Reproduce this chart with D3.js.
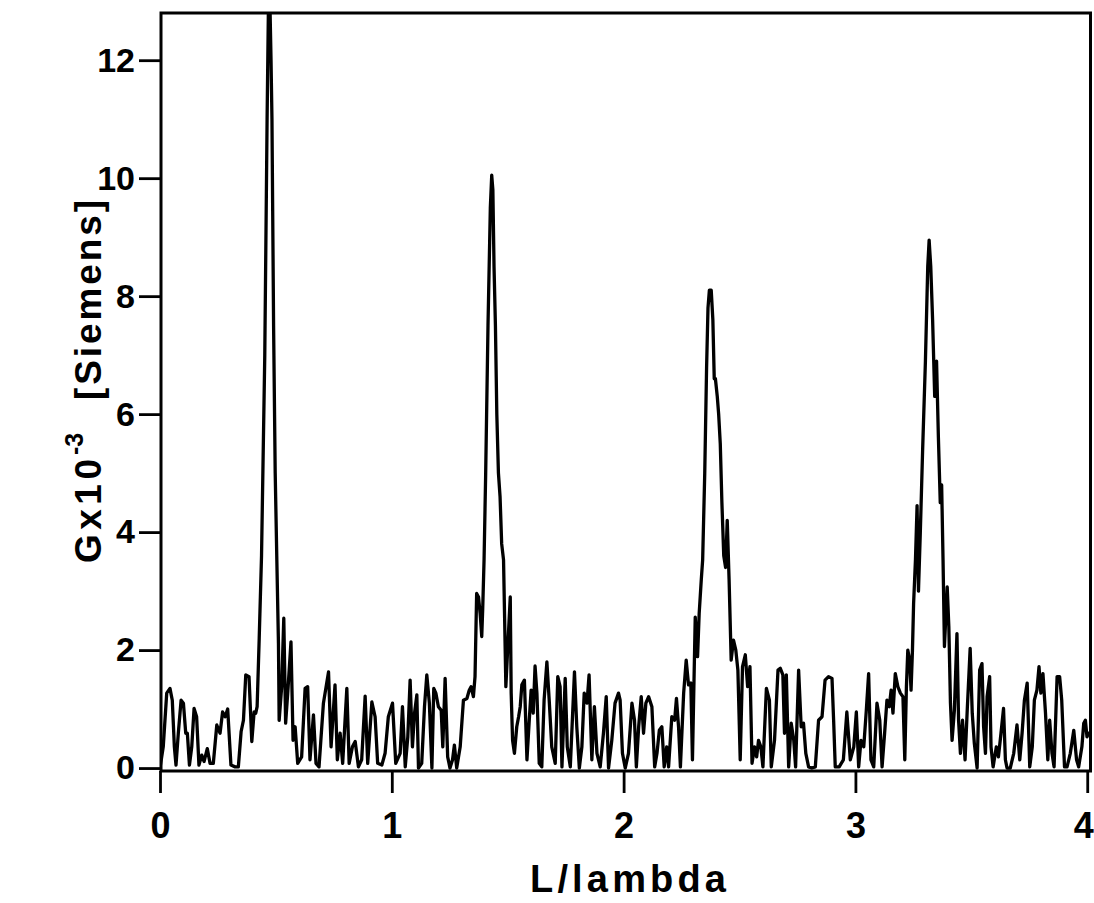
<!DOCTYPE html>
<html>
<head>
<meta charset="utf-8">
<script src="https://cdn.jsdelivr.net/npm/d3@7"></script>
<style>
  html, body { margin: 0; padding: 0; background: #fff; }
  svg { display: block; }
</style>
</head>
<body>
<svg id="chart" width="1094" height="903"></svg>
<script>
// ---- Data ----
const lambdaRatio = [
  0.000,0.014,0.029,0.043,0.053,0.062,0.069,0.079,0.091,0.101,0.111,0.118,0.127,0.137,0.147,0.158,0.168,0.180,0.190,0.204,
  0.216,0.230,0.245,0.259,0.270,0.281,0.292,0.306,0.324,0.338,0.350,0.360,0.370,0.384,0.396,0.406,0.413,0.419,
  0.428,0.438,0.452,0.462,0.468,0.474,0.479,0.483,0.490,0.497,0.504,0.511,
  0.514,0.525,0.534,0.542,0.551,0.565,0.574,0.583,0.594,0.611,0.626,0.637,0.647,0.662,0.673,0.686,0.705,0.727,0.738,0.755,
  0.765,0.777,0.788,0.806,0.816,0.830,0.842,0.856,0.870,0.885,0.896,0.914,0.928,0.939,0.957,0.971,0.985,1.003,
  1.017,1.036,1.046,1.058,1.069,1.079,1.089,1.098,1.108,1.115,1.129,1.141,1.151,1.162,1.173,1.181,1.190,1.201,1.213,1.220,
  1.230,1.241,1.251,1.262,1.270,1.280,1.295,1.309,1.324,1.334,1.342,1.352,1.359,1.366,1.374,1.381,1.388,1.392,1.398,
  1.405,1.415,1.425,1.431,1.436,1.441,1.447,1.453,1.460,1.467,1.474,1.482,
  1.486,1.492,1.501,1.511,1.515,1.521,1.529,1.539,1.547,1.554,1.561,1.572,1.583,1.593,1.601,1.610,1.618,1.626,1.636,1.647,
  1.657,1.669,1.679,1.690,1.705,1.716,1.726,1.734,1.748,1.757,1.770,1.788,1.798,1.809,1.820,1.830,1.842,1.851,1.863,1.874,
  1.885,1.899,1.913,1.925,1.935,1.949,1.963,1.978,1.985,1.995,2.007,
  2.021,2.036,2.047,2.055,2.065,2.076,2.086,2.096,2.108,2.122,2.134,2.144,2.154,2.165,2.175,2.186,2.194,2.208,2.220,2.228,
  2.237,2.245,2.259,2.270,2.280,2.290,2.297,2.309,2.319,2.326,2.335,2.341,
  2.350,2.358,2.364,2.370,2.378,2.385,2.391,2.396,2.404,2.410,2.417,2.424,2.432,2.440,2.447,2.455,
  2.464,2.474,2.484,2.493,2.503,2.513,2.525,2.535,2.545,2.554,2.565,2.574,2.582,2.592,2.601,2.616,2.629,2.637,2.651,2.666,
  2.676,2.687,2.694,2.702,2.712,2.723,2.734,2.742,2.755,2.766,2.776,2.786,2.798,2.812,2.827,2.841,2.856,2.869,2.884,2.899,
  2.906,2.913,2.930,2.948,2.963,2.978,
  2.993,3.004,3.014,3.024,3.036,3.047,3.057,3.067,3.079,3.093,3.105,3.115,3.126,3.136,3.146,3.154,3.162,3.172,3.183,3.194,
  3.205,3.213,3.220,3.226,3.234,3.240,3.246,3.251,3.259,
  3.266,3.272,3.280,3.290,3.302,3.312,3.318,3.325,3.333,3.342,3.350,3.358,3.366,3.372,3.378,
  3.384,3.396,3.403,3.410,3.417,3.427,3.438,3.445,3.453,3.462,3.473,3.483,3.495,3.504,3.513,3.525,3.536,3.546,3.553,3.561,
  3.568,3.579,3.585,3.594,3.608,3.617,3.628,3.639,3.647,3.654,3.668,3.683,3.697,3.709,3.719,3.729,3.741,3.752,3.763,3.772,
  3.783,3.792,3.800,3.809,3.820,3.830,3.838,3.848,3.857,3.870,3.881,3.890,3.902,3.913,3.927,3.942,3.954,3.963,3.977,3.985,
  3.992,3.999,4.006
];
const conductance = [
  0.00,0.36,1.27,1.35,1.15,0.36,0.05,0.59,1.15,1.10,0.59,0.59,0.05,0.36,1.01,0.87,0.05,0.22,0.11,0.33,
  0.08,0.08,0.73,0.59,0.95,0.87,1.00,0.05,0.02,0.02,0.62,0.81,1.58,1.55,0.45,0.95,0.93,1.04,
  2.20,3.60,7.00,11.00,13.00,13.00,12.00,11.00,7.50,5.00,3.53,2.11,
  0.81,1.38,2.54,0.76,1.27,2.14,0.47,0.70,0.08,0.19,1.35,1.38,0.14,0.90,0.08,0.02,1.10,1.63,0.36,1.41,
  0.14,0.59,0.08,1.35,0.08,0.36,0.45,0.02,0.14,1.22,0.08,1.12,0.87,0.08,0.05,0.25,0.87,1.10,
  0.08,0.25,1.04,0.02,0.53,1.49,0.36,0.93,1.24,0.00,0.08,1.04,1.58,1.10,0.00,1.35,1.27,1.04,0.98,0.36,
  1.52,0.19,0.00,0.14,0.39,0.00,0.36,1.15,1.18,1.32,1.38,1.21,1.55,2.96,2.90,2.62,2.23,2.68,3.53,
  5.00,7.50,9.50,10.05,9.80,8.50,7.50,6.00,5.00,4.60,3.80,3.53,
  2.68,1.38,2.11,2.90,1.27,0.47,0.25,0.70,0.87,1.04,1.41,1.49,0.14,0.81,1.32,0.93,1.73,1.27,0.08,0.02,
  1.15,1.80,1.15,0.36,0.08,1.55,1.38,0.02,1.52,0.36,0.02,1.63,0.70,0.00,0.36,1.27,1.10,1.58,0.14,1.04,
  0.25,0.02,0.59,1.21,0.00,0.47,1.10,1.27,1.15,0.25,0.00,
  0.25,1.10,0.81,0.02,0.70,1.21,0.59,1.10,1.21,1.04,0.02,0.25,0.64,0.70,0.02,0.36,0.02,0.87,0.81,1.18,
  0.70,0.02,1.27,1.83,1.41,1.44,0.14,2.56,1.89,2.62,3.19,3.53,
  5.00,6.80,7.80,8.10,8.10,7.60,6.60,6.60,6.30,6.00,5.50,4.50,3.60,3.40,4.20,3.20,
  1.83,2.17,2.00,1.66,0.14,1.72,1.92,1.38,1.72,0.08,0.36,0.19,0.47,0.36,0.02,1.35,1.15,0.02,0.47,1.66,
  1.69,1.58,0.59,1.58,0.02,0.76,0.47,0.02,1.66,0.70,0.76,0.25,0.02,0.00,0.02,0.81,0.87,1.49,1.55,1.52,
  0.81,0.02,0.02,0.14,0.95,0.14,
  0.36,0.95,0.02,0.47,0.36,0.98,1.60,0.14,0.02,1.10,0.81,0.02,0.59,1.15,1.04,1.32,0.93,1.60,1.38,1.27,
  1.21,0.14,1.38,2.00,1.83,1.32,1.99,2.79,3.53,
  4.45,3.00,4.00,5.40,6.90,8.50,8.95,8.50,7.60,6.30,6.90,5.60,4.50,4.80,3.53,
  2.06,3.07,2.40,1.10,0.47,0.98,2.28,0.81,0.25,0.81,0.14,1.04,2.03,0.93,0.42,0.00,1.66,1.77,0.70,0.25,
  1.21,1.55,0.36,0.02,0.36,0.19,0.59,1.01,0.14,0.00,0.00,0.25,0.73,0.14,0.59,1.15,1.44,0.02,0.36,1.15,
  1.32,1.72,1.27,1.60,0.93,0.14,0.81,0.25,0.02,1.55,1.55,1.15,0.02,0.02,0.25,0.64,0.14,0.02,0.36,0.76,
  0.81,0.53,0.59
];
const xTickValues = [0, 1, 2, 3, 4];
const yTickValues = [0, 2, 4, 6, 8, 10, 12];
const xTitle = "L/lambda";
const yTitleMain = "Gx10";
const yTitleExp = "-3";
const yTitleUnit = "[Siemens]";

// ---- Drawing ----
(function () {
const svg = d3.select("#chart");
const W = 1094, H = 903;
const pL = 161, pR = 1090.5, pT = 13, pB = 771;

const x = d3.scaleLinear().domain([0, 4.015]).range([160, 1090.7]);
const y = d3.scaleLinear().domain([-0.05, 12.8]).range([pB, pT]);

svg.append("rect").attr("width", W).attr("height", H).attr("fill", "#fff");

const font = "'Liberation Sans', Arial, Helvetica, sans-serif";

svg.append("defs").append("clipPath").attr("id", "plotclip")
  .append("rect").attr("x", pL).attr("y", pT).attr("width", pR - pL).attr("height", pB - pT);

// data line
const pts = lambdaRatio.map((d, i) => [d, conductance[i]]);
const line = d3.line().x(d => x(d[0])).y(d => y(d[1]));
svg.append("path")
  .datum(pts)
  .attr("clip-path", "url(#plotclip)")
  .attr("d", line)
  .attr("fill", "none")
  .attr("stroke", "#000")
  .attr("stroke-width", 3.3)
  .attr("stroke-linejoin", "round")
  .attr("stroke-linecap", "round");

// frame
svg.append("rect")
  .attr("x", pL).attr("y", pT)
  .attr("width", pR - pL).attr("height", pB - pT)
  .attr("fill", "none").attr("stroke", "#000").attr("stroke-width", 3);

// x axis (ticks pointing down)
const xAxis = d3.axisBottom(x).tickValues(xTickValues).tickSize(22).tickPadding(20)
  .tickFormat(d3.format("d"));
const gx = svg.append("g").attr("transform", `translate(0,${pB})`).call(xAxis);
gx.select(".domain").remove();
gx.selectAll(".tick line").attr("stroke", "#000").attr("stroke-width", 2.8);
gx.selectAll(".tick text")
  .attr("font-family", font).attr("font-weight", "bold").attr("font-size", 36)
  .attr("fill", "#000").attr("dy", "0.70em")
  .attr("x", d => d === 4 ? -4 : 0);

// y axis (ticks pointing left)
const yAxis = d3.axisLeft(y).tickValues(yTickValues).tickSize(22).tickPadding(4)
  .tickFormat(d3.format("d"));
const gy = svg.append("g").attr("transform", `translate(${pL},0)`).call(yAxis);
gy.select(".domain").remove();
gy.selectAll(".tick line").attr("stroke", "#000").attr("stroke-width", 2.8);
gy.selectAll(".tick text")
  .attr("font-family", font).attr("font-weight", "bold").attr("font-size", 34)
  .attr("fill", "#000");

// x title
svg.append("text")
  .attr("x", 530).attr("y", 892)
  .attr("font-family", font).attr("font-weight", "bold").attr("font-size", 38)
  .attr("textLength", 196).attr("lengthAdjust", "spacing")
  .attr("fill", "#000")
  .text(xTitle);

// y title (rotated)
const yt = svg.append("text")
  .attr("transform", "translate(101,563) rotate(-90)")
  .attr("font-family", font).attr("font-weight", "bold").attr("font-size", 37)
  .attr("fill", "#000");
yt.append("tspan").attr("x", 0).attr("y", 0)
  .attr("textLength", 104).attr("lengthAdjust", "spacing").text(yTitleMain);
yt.append("tspan").attr("x", 108).attr("y", -18).attr("font-size", 25).text(yTitleExp);
yt.append("tspan").attr("x", 163).attr("y", 0)
  .attr("textLength", 200).attr("lengthAdjust", "spacing").text(yTitleUnit);
})();
</script>
</body>
</html>
